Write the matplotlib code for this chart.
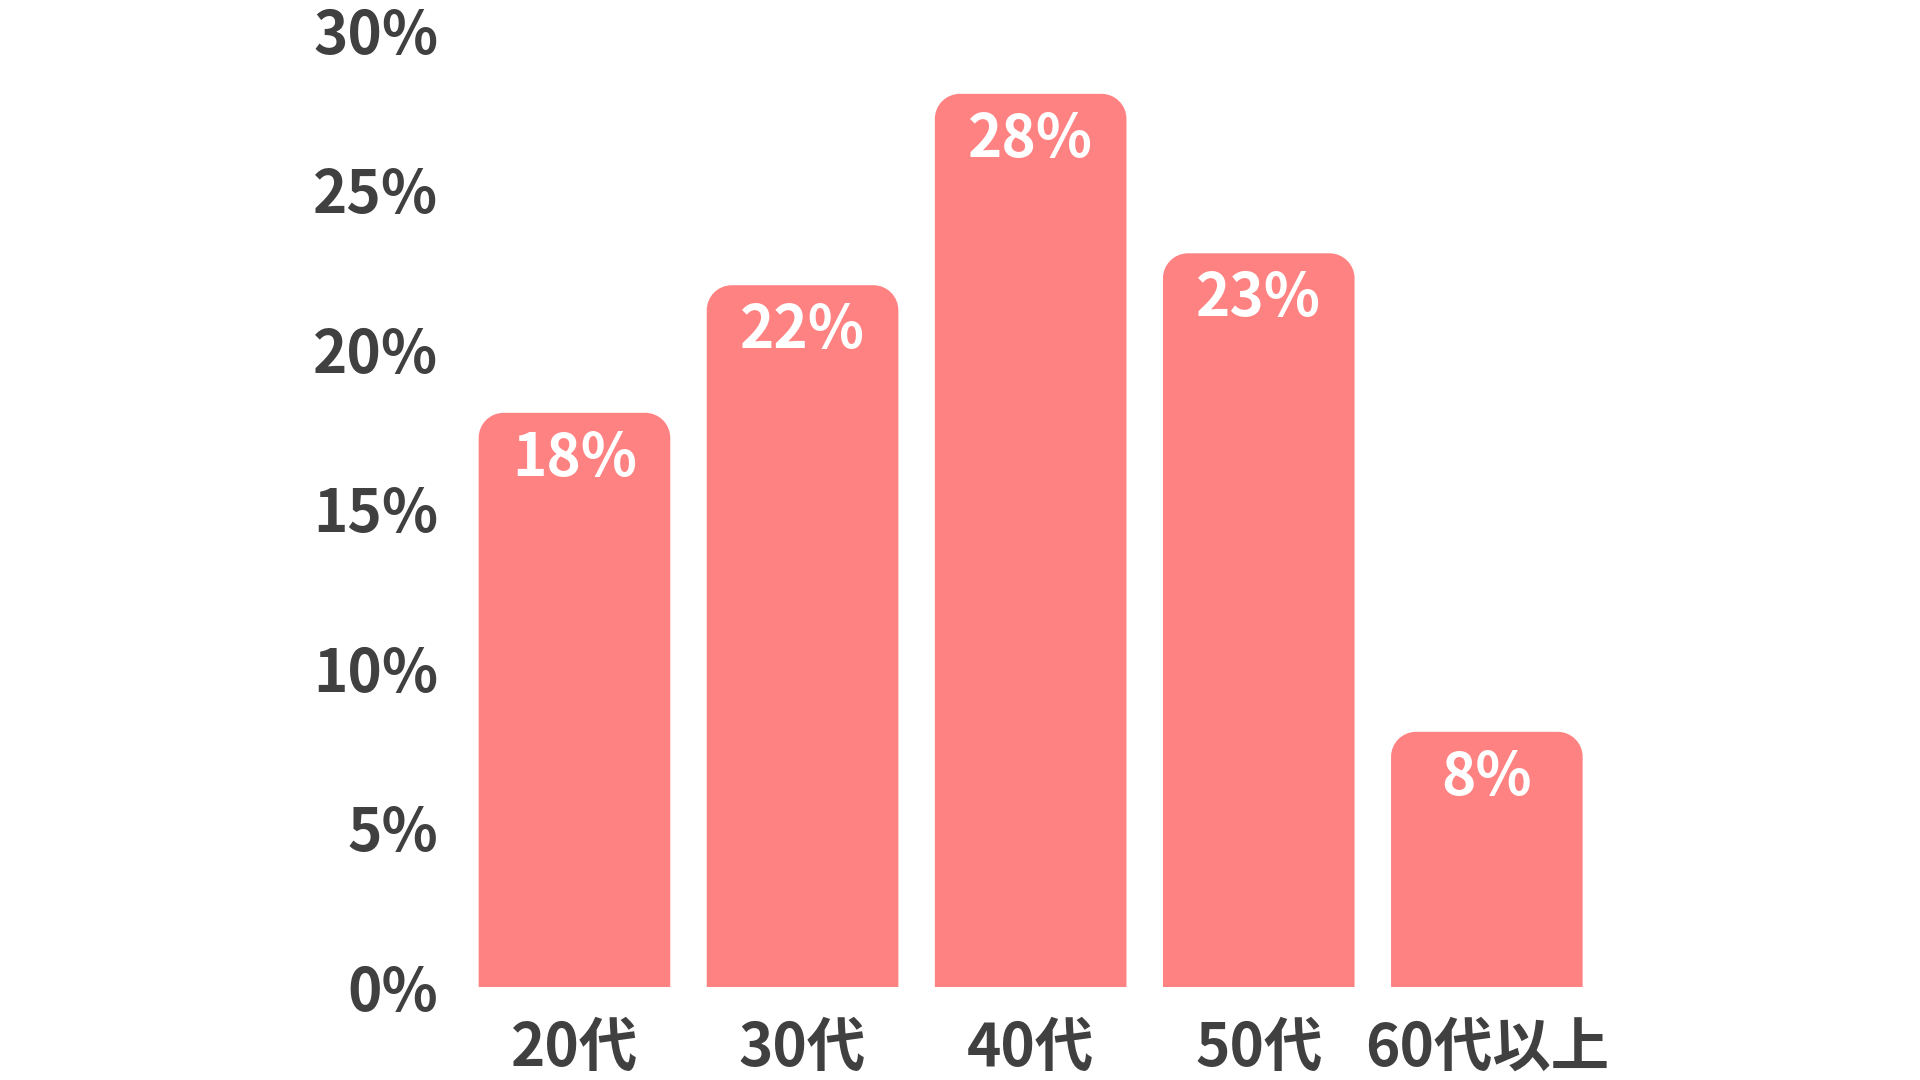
import numpy as np
import matplotlib
matplotlib.use('Agg')
import matplotlib.pyplot as plt
from matplotlib.path import Path
from matplotlib.patches import PathPatch

plt.rcParams['font.family'] = ['Noto Sans CJK JP', 'DejaVu Sans']

categories = ['20代', '30代', '40代', '50代', '60代以上']
values = [18, 22, 28, 23, 8]
yticks = [0, 5, 10, 15, 20, 25, 30]

bar_color = '#FF8282'
text_color = '#404040'
bar_width = 0.84
radius_px = 25

fig = plt.figure(figsize=(19.2, 10.8), dpi=100)
ax = fig.add_axes([0.2398, 0.0861, 0.594, 0.8861])
ax.set_xlim(-0.5, 4.5)
ax.set_ylim(0, 30)

# pixels per data unit, for round corners
bbox = ax.get_window_extent()
px_x = bbox.width / 5.0
px_y = bbox.height / 30.0
rx = radius_px / px_x
ry = radius_px / px_y
k = 0.5523

x = np.arange(len(categories))
for xi, v in zip(x, values):
    l, r = xi - bar_width / 2, xi + bar_width / 2
    verts = [(l, 0), (l, v - ry),
             (l, v - ry + k * ry), (l + rx - k * rx, v), (l + rx, v),
             (r - rx, v),
             (r - rx + k * rx, v), (r, v - ry + k * ry), (r, v - ry),
             (r, 0), (l, 0)]
    codes = [Path.MOVETO, Path.LINETO,
             Path.CURVE4, Path.CURVE4, Path.CURVE4,
             Path.LINETO,
             Path.CURVE4, Path.CURVE4, Path.CURVE4,
             Path.LINETO, Path.CLOSEPOLY]
    ax.add_patch(PathPatch(Path(verts, codes), facecolor=bar_color,
                           edgecolor='none'))
    ax.annotate(f'{v}%', (xi, v), xytext=(0, -33), textcoords='offset points',
                ha='center', va='center', color='white', fontsize=42,
                fontweight='bold')

ax.set_xticks(x)
ax.set_xticklabels(categories)
ax.set_yticks(yticks)
ax.set_yticklabels([f'{t}%' for t in yticks])
ax.tick_params(axis='both', length=0, labelsize=42, colors=text_color)
ax.tick_params(axis='y', pad=16)
ax.tick_params(axis='x', pad=23)
for lab in ax.get_xticklabels() + ax.get_yticklabels():
    lab.set_fontweight('bold')
for s in ax.spines.values():
    s.set_visible(False)

fig.savefig('out.png', dpi=100, facecolor='white')
